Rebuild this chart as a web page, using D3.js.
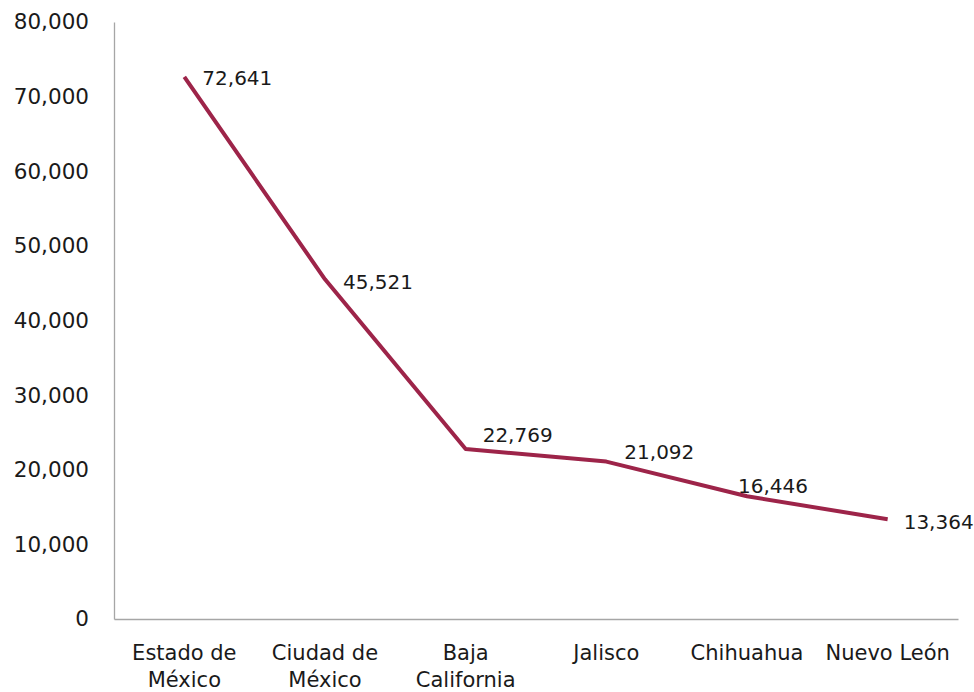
<!DOCTYPE html>
<html>
<head>
<meta charset="utf-8">
<script src="https://cdn.jsdelivr.net/npm/d3@7"></script>
<style>
  body { margin: 0; background: #fff; }
  svg text { font-family: 'DejaVu Sans', sans-serif; fill: #1a1a1a; }
</style>
</head>
<body>
<svg id="chart" width="974" height="692"></svg>
<script>
const states = ['Estado de México', 'Ciudad de México', 'Baja California', 'Jalisco', 'Chihuahua', 'Nuevo León']
const stateLines = [['Estado de', 'México'], ['Ciudad de', 'México'], ['Baja', 'California'], ['Jalisco'], ['Chihuahua'], ['Nuevo León']]
const values = [72641, 45521, 22769, 21092, 16446, 13364]
const yTicks = [0, 10000, 20000, 30000, 40000, 50000, 60000, 70000, 80000]

// label nudges (px) relative to each point, like the original placement
const labelDx = [18, 18, 17, 18, -9, 16]
const labelDy = [1, 3, -14, -10, -10, 3]

const svg = d3.select('#chart')
const m = { left: 114, right: 958, top: 22, bottom: 619 }

const x = d3.scaleBand().domain(states).range([m.left, m.right])
const y = d3.scaleLinear().domain([0, 80000]).range([m.bottom, m.top])
const fmt = d3.format(',')

// y axis
const yAxis = svg.append('g').attr('transform', `translate(${m.left},0)`)
  .call(d3.axisLeft(y).tickValues(yTicks).tickFormat(fmt).tickSize(0).tickPadding(25))
yAxis.select('.domain').attr('stroke', '#a6a6a6').attr('stroke-width', 1.3)
yAxis.selectAll('text').style('font-size', '21.5px').attr('fill', '#1a1a1a')

// x axis
const xAxis = svg.append('g').attr('transform', `translate(0,${m.bottom})`)
  .call(d3.axisBottom(x).tickSize(0).tickFormat(''))
xAxis.select('.domain').attr('stroke', '#a6a6a6').attr('stroke-width', 1.3)

svg.append('g').selectAll('text')
  .data(states)
  .join('text')
  .attr('x', d => x(d) + x.bandwidth() / 2)
  .attr('y', 660)
  .attr('text-anchor', 'middle')
  .style('font-size', '21px')
  .each(function (d, i) {
    d3.select(this).selectAll('tspan')
      .data(stateLines[i])
      .join('tspan')
      .attr('x', x(d) + x.bandwidth() / 2)
      .attr('dy', (t, j) => j === 0 ? 0 : 27)
      .text(t => t)
  })

const line = d3.line()
  .x((d, i) => x(states[i]) + x.bandwidth() / 2)
  .y(d => y(d))

svg.append('path')
  .datum(values)
  .attr('d', line)
  .attr('fill', 'none')
  .attr('stroke', '#9d2449')
  .attr('stroke-width', 4)
  .attr('stroke-linejoin', 'round')

svg.append('g').selectAll('text')
  .data(values)
  .join('text')
  .attr('x', (d, i) => x(states[i]) + x.bandwidth() / 2 + labelDx[i])
  .attr('y', (d, i) => y(d) + labelDy[i])
  .attr('dy', '0.35em')
  .style('font-size', '20px')
  .text(d => fmt(d))
</script>
</body>
</html>
